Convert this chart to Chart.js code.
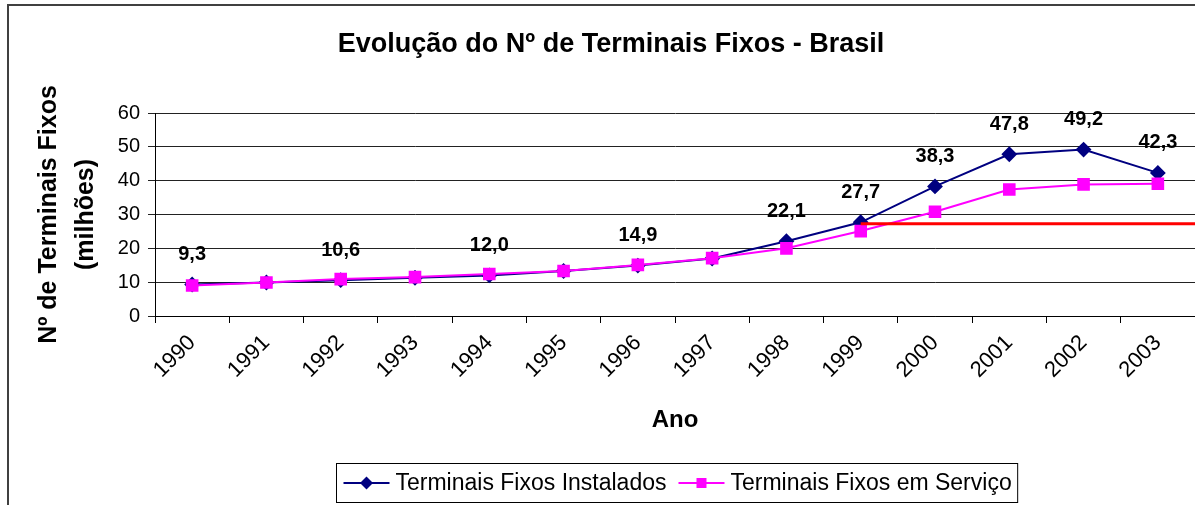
<!DOCTYPE html>
<html>
<head>
<meta charset="utf-8">
<script src="https://cdn.jsdelivr.net/npm/chart.js@4.4.0/dist/chart.umd.min.js"></script>
<style>
  html, body { margin: 0; padding: 0; background: #fff; }
</style>
</head>
<body>
<canvas id="grafico" width="1195" height="505"></canvas>
<script>
const anos = ['1990', '1991', '1992', '1993', '1994', '1995', '1996', '1997', '1998', '1999', '2000', '2001', '2002', '2003'];
const instalados = [9.3, 9.9, 10.6, 11.3, 12.0, 13.3, 14.9, 17.0, 22.1, 27.7, 38.3, 47.8, 49.2, 42.3];
const emServico = [9.0, 9.9, 10.9, 11.5, 12.4, 13.3, 15.1, 17.1, 20.0, 25.1, 30.8, 37.4, 38.9, 39.1];
const anosComRotulo = ['1990', '1992', '1994', '1996', '1998', '1999', '2000', '2001', '2002', '2003'];
const linhaRef = 27.3;
const linhaRefInicio = '1999';
const titulo = 'Evolução do Nº de Terminais Fixos - Brasil';

const fonte = 'Liberation Sans, Arial, sans-serif';

// moldura do grafico (so topo e esquerda aparecem) + titulo
const moldura = {
    id: 'moldura',
    beforeDraw(chart) {
        const ctx = chart.ctx;
        ctx.save();
        ctx.fillStyle = '#fff';
        ctx.fillRect(0, 0, chart.width, chart.height);
        ctx.strokeStyle = '#404040';
        ctx.lineWidth = 2;
        ctx.strokeRect(8, 5, chart.width + 20, chart.height + 20);
        ctx.font = 'bold 27px ' + fonte;
        ctx.fillStyle = '#000';
        ctx.textAlign = 'center';
        ctx.textBaseline = 'middle';
        ctx.fillText(titulo, 611, 45);
        ctx.restore();
    }
};

const rotulos = {
    id: 'rotulos',
    afterDatasetsDraw(chart) {
        const ctx = chart.ctx;
        const meta = chart.getDatasetMeta(0);
        ctx.save();
        ctx.font = 'bold 20px ' + fonte;
        ctx.fillStyle = '#000';
        ctx.textAlign = 'center';
        ctx.textBaseline = 'middle';
        meta.data.forEach((pt, i) => {
            if (!anosComRotulo.includes(anos[i])) return;
            const txt = instalados[i].toFixed(1).replace('.', ',');
            ctx.fillText(txt, pt.x, pt.y - 30);
        });
        ctx.restore();
    }
};

const linhaVermelha = {
    id: 'linhaVermelha',
    afterDatasetsDraw(chart) {
        const ctx = chart.ctx;
        const x0 = chart.scales.x.getPixelForValue(anos.indexOf(linhaRefInicio));
        const y = chart.scales.y.getPixelForValue(linhaRef);
        ctx.save();
        ctx.strokeStyle = '#ff0000';
        ctx.lineWidth = 3;
        ctx.beginPath();
        ctx.moveTo(x0, y);
        ctx.lineTo(chart.chartArea.right, y);
        ctx.stroke();
        ctx.restore();
    }
};

function marcador(ctx, estilo, x, y, cor) {
    ctx.fillStyle = cor;
    ctx.beginPath();
    if (estilo === 'rectRot') {
        ctx.moveTo(x, y - 6.5);
        ctx.lineTo(x + 6.5, y);
        ctx.lineTo(x, y + 6.5);
        ctx.lineTo(x - 6.5, y);
        ctx.closePath();
    } else {
        ctx.rect(x - 5, y - 5, 10, 10);
    }
    ctx.fill();
}

const legenda = {
    id: 'legenda',
    afterDraw(chart) {
        const ctx = chart.ctx;
        const ds = chart.data.datasets;
        ctx.save();
        ctx.font = '23px ' + fonte;
        const larguras = ds.map(d => ctx.measureText(d.label).width);
        const linha = 46, gap = 6, entre = 12, padL = 7, padR = 6;
        let total = padL + padR;
        larguras.forEach((w, i) => { total += linha + gap + w + (i > 0 ? entre : 0); });
        const cx = (chart.chartArea.left + chart.chartArea.right) / 2 + 2;
        const x0 = Math.round(cx - total / 2) + 0.5;
        const top = 463.5, h = 39;
        ctx.strokeStyle = '#000';
        ctx.lineWidth = 1;
        ctx.strokeRect(x0, top, total, h);
        const yc = top + h / 2;
        let x = x0 + padL;
        ds.forEach((d, i) => {
            if (i > 0) x += entre;
            ctx.strokeStyle = d.borderColor;
            ctx.lineWidth = 2;
            ctx.beginPath();
            ctx.moveTo(x, yc);
            ctx.lineTo(x + linha, yc);
            ctx.stroke();
            marcador(ctx, d.pointStyle, x + linha / 2, yc, d.pointBackgroundColor);
            x += linha + gap;
            ctx.fillStyle = '#000';
            ctx.textAlign = 'left';
            ctx.textBaseline = 'middle';
            ctx.fillText(d.label, x, yc + 1);
            x += larguras[i];
        });
        ctx.restore();
    }
};

const ctx = document.getElementById('grafico').getContext('2d');
new Chart(ctx, {
    type: 'line',
    data: {
        labels: anos,
        datasets: [{
            label: 'Terminais Fixos Instalados',
            data: instalados,
            borderColor: '#000080',
            backgroundColor: '#000080',
            pointBackgroundColor: '#000080',
            pointBorderColor: '#000080',
            pointStyle: 'rectRot',
            pointRadius: 6.5,
            borderWidth: 2,
            tension: 0,
            order: 1
        }, {
            label: 'Terminais Fixos em Serviço',
            data: emServico,
            borderColor: '#ff00ff',
            backgroundColor: '#ff00ff',
            pointBackgroundColor: '#ff00ff',
            pointBorderColor: '#ff00ff',
            pointStyle: 'rect',
            pointRadius: 7.5,
            borderWidth: 2,
            tension: 0,
            order: 0
        }]
    },
    options: {
        responsive: false,
        animation: false,
        devicePixelRatio: 1,
        layout: { autoPadding: false, padding: { left: 0, right: 0, top: 113, bottom: 60 } },
        plugins: {
            legend: { display: false },
            tooltip: { enabled: false },
            title: { display: false }
        },
        scales: {
            x: {
                offset: true,
                afterFit: s => { s.height = 129; s.paddingRight = 0; s.paddingLeft = 0; },
                grid: { drawOnChartArea: false, offset: true, color: '#000', tickLength: 7 },
                border: { color: '#000', width: 1 },
                ticks: {
                    color: '#000', font: { family: fonte, size: 22 },
                    minRotation: 45, maxRotation: 45, padding: 7
                },
                title: {
                    display: true, text: 'Ano', color: '#000',
                    font: { family: fonte, size: 24, weight: 'bold', lineHeight: 1.2 },
                    padding: { top: 0, bottom: 10 }
                }
            },
            y: {
                min: 0, max: 60,
                afterFit: s => { s.width = 155; },
                grid: { color: '#222', tickLength: 7 },
                border: { color: '#000', width: 1 },
                ticks: { stepSize: 10, color: '#000', font: { family: fonte, size: 20 }, padding: 8 },
                title: {
                    display: true,
                    text: ['Nº de Terminais Fixos', '(milhões)'],
                    color: '#000',
                    font: { family: fonte, size: 25, weight: 'bold', lineHeight: 1.5 },
                    padding: { top: 30, bottom: 0 }
                }
            }
        }
    },
    plugins: [moldura, linhaVermelha, rotulos, legenda]
});
</script>
</body>
</html>
